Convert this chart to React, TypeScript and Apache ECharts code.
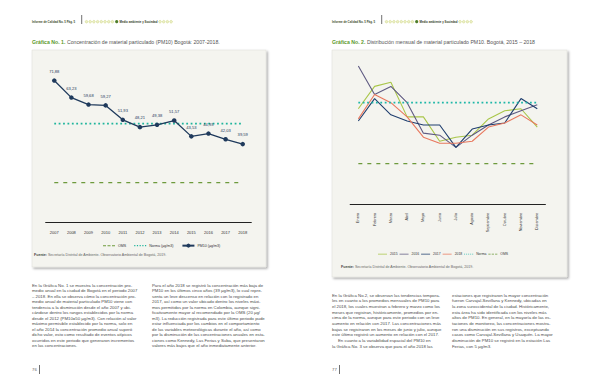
import React, { useEffect, useRef } from "react";
import * as echarts from "echarts";

// ---- Chart 1 data ----
const years = ["2007", "2008", "2009", "2010", "2011", "2012", "2013", "2014", "2015", "2016", "2017", "2018"];
const pm10Annual = [71.88, 63.23, 59.68, 59.27, 51.93, 48.21, 49.38, 51.57, 43.53, 44.93, 42.03, 39.59];
const normaAnnual = [50, 50, 50, 50, 50, 50, 50, 50, 50, 50, 50, 50];
const omsAnnual = [20, 20, 20, 20, 20, 20, 20, 20, 20, 20, 20, 20];

// ---- Chart 2 data ----
const months = ["Enero", "Febrero", "Marzo", "Abril", "Mayo", "Junio", "Julio", "Agosto", "Septiembre", "Octubre", "Noviembre", "Diciembre"];
const s2015 = [47, 58, 60, 43, 43, 31, 33, 34, 42, 46, 47, 38];
const s2016 = [68, 54, 58, 50, 35, 34, 28, 34, 39, 43, 46, 49];
const s2017 = [41, 52, 44, 41, 39, 39, 28, 37, 39, 40, 52, 47];
const s2018 = [42, 54, 50, 43, 33, 30, 30, 31, 38, 40, 44, 39];
const normaMonthly = [50, 50, 50, 50, 50, 50, 50, 50, 50, 50, 50, 50];
const omsMonthly = [20, 20, 20, 20, 20, 20, 20, 20, 20, 20, 20, 20];

// ---- Texts ----
const headerLeft = "Informe de Calidad No. 5 Pág. 5";
const headerSection = "Medio ambiente y Sociedad";
const title1a = "Gráfica No. 1.";
const title1b = " Concentración de material particulado (PM10) Bogotá: 2007-2018.";
const title2a = "Gráfica No. 2.";
const title2b = " Distribución mensual de material particulado PM10. Bogotá, 2015 – 2018";
const fuente = "Secretaría Distrital de Ambiente. Observatorio Ambiental de Bogotá, 2019.";
const left1 = [
  "En la Gráfica No. 1 se muestra la concentración pro-",
  "medio anual en la ciudad de Bogotá en el periodo 2007",
  "– 2018. En ella se observa cómo la concentración pro-",
  "medio anual de material particulado PM10 viene con",
  "tendencia a la disminución desde el año 2007 y ubi-",
  "cándose dentro los rangos establecidos por la norma",
  "desde el 2012 (PM10=50 µg/m3). Con relación al valor",
  "máximo permisible establecido por la norma, solo en",
  "el año 2014 la concentración promedio anual superó",
  "dicho valor, esto como resultado de eventos atípicos",
  "ocurridos en este periodo que generaron incrementos",
  "en las concentraciones.",
];
const left2 = [
  "Para el año 2018 se registró la concentración más baja de",
  "PM10 en los últimos cinco años (39 µg/m3), lo cual repre-",
  "senta un leve descenso en relación con lo registrado en",
  "2017, así como un valor ubicado dentro los niveles máxi-",
  "mos permitidos por la norma en Colombia, aunque signi-",
  "ficativamente mayor al recomendado por la OMS (20 µg/",
  "m3). La reducción registrada para este último periodo pude",
  "estar influenciada por los cambios en el comportamiento",
  "de las variables meteorológicas durante el año, así como",
  "por la disminución de las concentraciones anuales en esta-",
  "ciones como Kennedy, Las Ferias y Suba, que presentaron",
  "valores más bajos que el año inmediatamente anterior.",
];
const right1 = [
  "En la Gráfica No.2, se observan las tendencias tempora-",
  "les en cuanto a los promedios mensuales de PM10 para",
  "el 2018, los cuales muestran a febrero y marzo como los",
  "meses que registran, históricamente, promedios por en-",
  "cima de la norma, aunque para este periodo con un leve",
  "aumento en relación con 2017. Las concentraciones más",
  "bajas se registraron en los meses de junio y julio, aunque",
  "este último registró un aumento en relación con el 2017.",
  "     En cuanto a la variabilidad espacial del PM10 en",
  "la Gráfica No. 3 se observa que para el año 2018 las",
];
const right2 = [
  "estaciones que registraron la mayor concentración",
  "fueron Carvajal-Sevillana y Kennedy, ubicadas en",
  "la zona suroccidental de la ciudad. Históricamente,",
  "esta área ha sido identificada con los niveles más",
  "altos de PM10. En general, en la mayoría de las es-",
  "taciones de monitoreo, las concentraciones mostra-",
  "ron una disminución en sus registros, exceptuando",
  "casos como Carvajal-Sevillana y Usaquén. La mayor",
  "disminución de PM10 se registró en la estación Las",
  "Ferias, con 5 µg/m3.",
];

const FONT = "'Liberation Sans', Roboto, sans-serif";
const NAVY = "#1f3a5c";
const TEAL = "#1fb59c";
const OLIVE = "#6d9a3c";
const GREEN_T = "#5c9a2c";

// legend icon shapes (bounded by tiny corner marks so the 14x5 box keeps a thin stroke)
const BOUNDS = "M0,0h0.01v0.01h-0.01z M13.99,4.99h0.01v0.01h-0.01z ";
const ICON_SOLID = "path://" + BOUNDS + "M0,1.9h14v1.2h-14z";
const ICON_DASH = "path://" + BOUNDS + "M0,1.9h3.5v1.2h-3.5z M5.25,1.9h3.5v1.2h-3.5z M10.5,1.9h3.5v1.2h-3.5z";
const ICON_DOT = "path://" + BOUNDS + "M0,1.8h1.4v1.4h-1.4z M3.15,1.8h1.4v1.4h-1.4z M6.3,1.8h1.4v1.4h-1.4z M9.45,1.8h1.4v1.4h-1.4z M12.6,1.8h1.4v1.4h-1.4z";

function endLabels(arr: number[], pos: string, dist: number, color: string) {
  const last = arr.length - 1;
  return arr.map((v, i) =>
    i === 0 || i === last
      ? { value: v, label: { show: true, position: pos, distance: dist, color, fontSize: 4.3, fontFamily: FONT } }
      : v
  );
}

function header(ox: number) {
  const els: any[] = [];
  els.push({ type: "text", x: ox + 32, y: 21.7, silent: true, style: { text: headerLeft, fontSize: 2.9, fontWeight: "bold", fill: "#3a4a2a", fontFamily: FONT, verticalAlign: "middle" } });
  els.push({ type: "line", silent: true, shape: { x1: ox + 81.7, y1: 15, x2: ox + 81.7, y2: 24 }, style: { stroke: "#333", lineWidth: 0.7 } });
  for (let i = 0; i < 8; i++) {
    els.push({ type: "circle", silent: true, shape: { cx: ox + 86.5 + i * 3.7, cy: 21.7, r: 1.3 }, style: { fill: "#eef0c8", stroke: "#c9d27e", lineWidth: 0.5 } });
  }
  els.push({ type: "circle", silent: true, shape: { cx: ox + 116.7, cy: 21.7, r: 1.6 }, style: { fill: "#4f7d2a" } });
  els.push({ type: "text", x: ox + 119.5, y: 21.7, silent: true, style: { text: headerSection, fontSize: 2.9, fontWeight: "bold", fill: "#2f3a24", fontFamily: FONT, verticalAlign: "middle" } });
  for (let i = 0; i < 4; i++) {
    els.push({ type: "circle", silent: true, shape: { cx: ox + 160 + i * 3.7, cy: 21.7, r: 1.3 }, style: { fill: "#eef0c8", stroke: "#c9d27e", lineWidth: 0.5 } });
  }
  return els;
}

function para(x: number, y: number, lines: string[], lh: number) {
  return { type: "text", x, y, silent: true, style: { text: lines.join("\n"), fontSize: 4.3, lineHeight: lh, fill: "#4a4a4a", fontFamily: FONT, verticalAlign: "top" } };
}

function box(x: number, y: number, w: number, h: number) {
  return { type: "rect", silent: true, z: -1, shape: { x, y, width: w, height: h }, style: { fill: "#f4f4ef", stroke: "#dcdcd6", lineWidth: 0.5, shadowBlur: 2, shadowOffsetX: 1.5, shadowOffsetY: 1.5, shadowColor: "rgba(0,0,0,0.35)" } };
}

export default function App() {
  const ref = useRef<HTMLDivElement>(null);
  useEffect(() => {
    if (!ref.current) return;
    const chart = echarts.init(ref.current, undefined, { renderer: "svg" });
    const lbl2018 = { show: true, position: "bottom", distance: 10, fontSize: 4.3, color: "#333", fontFamily: FONT };
    const option: any = {
      animation: false,
      backgroundColor: "#ffffff",
      textStyle: { fontFamily: FONT },
      graphic: [
        ...header(0),
        ...header(300),
        { type: "text", x: 32, y: 41.7, silent: true, style: { text: `{b|${title1a}}${title1b}`, fontSize: 5.2, fill: "#555", fontFamily: FONT, verticalAlign: "middle", rich: { b: { fontWeight: "bold", fill: GREEN_T, fontSize: 5.2, fontFamily: FONT } } } },
        { type: "text", x: 332, y: 41.7, silent: true, style: { text: `{b|${title2a}}${title2b}`, fontSize: 5.2, fill: "#555", fontFamily: FONT, verticalAlign: "middle", rich: { b: { fontWeight: "bold", fill: GREEN_T, fontSize: 5.2, fontFamily: FONT } } } },
        box(32, 50, 234, 217),
        box(332, 50, 235, 227),
        { type: "text", x: 34, y: 255, silent: true, style: { text: `{b|Fuente:} ${fuente}`, fontSize: 3.6, fill: "#666", fontFamily: FONT, verticalAlign: "middle", rich: { b: { fontWeight: "bold", fill: "#444", fontSize: 3.6, fontFamily: FONT } } } },
        { type: "text", x: 341, y: 266.7, silent: true, style: { text: `{b|Fuente:} ${fuente}`, fontSize: 3.6, fill: "#666", fontFamily: FONT, verticalAlign: "middle", rich: { b: { fontWeight: "bold", fill: "#444", fontSize: 3.6, fontFamily: FONT } } } },
        para(32, 282.5, left1, 5.5),
        para(152, 282.5, left2, 5.5),
        para(332, 292.3, right1, 5.67),
        para(452, 292.3, right2, 5.67),
        { type: "text", x: 32, y: 369.5, silent: true, style: { text: "76", fontSize: 4.3, fill: "#666", fontFamily: FONT, verticalAlign: "middle" } },
        { type: "line", silent: true, shape: { x1: 39.5, y1: 365, x2: 39.5, y2: 374 }, style: { stroke: "#333", lineWidth: 0.7 } },
        { type: "text", x: 332, y: 369.5, silent: true, style: { text: "77", fontSize: 4.3, fill: "#666", fontFamily: FONT, verticalAlign: "middle" } },
        { type: "line", silent: true, shape: { x1: 339.5, y1: 365, x2: 339.5, y2: 374 }, style: { stroke: "#333", lineWidth: 0.7 } },
      ],
      legend: [
        {
          left: 98, top: 238.5, itemWidth: 12, itemHeight: 5, itemGap: 8,
          data: [
            { name: "OMS", icon: ICON_DASH },
            { name: "Norma (µg/m3)", icon: ICON_DOT },
            { name: "PM10 (µg/m3)" },
          ],
          textStyle: { fontSize: 3.6, color: "#333", fontFamily: FONT, padding: [0, 0, 0, -2] },
        },
        {
          left: 373, top: 247.5, itemWidth: 9, itemHeight: 5, itemGap: 2,
          data: [
            { name: "2015", icon: ICON_SOLID },
            { name: "2016", icon: ICON_SOLID },
            { name: "2017", icon: ICON_SOLID },
            { name: "2018", icon: ICON_SOLID },
            { name: "Norma", icon: ICON_DOT },
            { name: "OMS", icon: ICON_DASH },
          ],
          textStyle: { fontSize: 3.4, color: "#333", fontFamily: FONT, padding: [0, 0, 0, -2] },
        },
      ],
      grid: [
        { left: 45.7, top: 64.6, width: 205.6, height: 157.4 },
        { left: 350.2, top: 62, width: 195.2, height: 142.3 },
      ],
      xAxis: [
        {
          type: "category", gridIndex: 0, data: years, boundaryGap: true,
          axisLine: { lineStyle: { color: "#222", width: 1.1 } }, axisTick: { show: false },
          axisLabel: { fontSize: 4, color: "#333", margin: 8, fontFamily: FONT },
        },
        {
          type: "category", gridIndex: 1, data: months, boundaryGap: true,
          axisLine: { lineStyle: { color: "#222", width: 1.1 } }, axisTick: { show: false },
          axisLabel: { fontSize: 3.8, color: "#333", margin: 8.5, rotate: 90, fontFamily: FONT },
        },
      ],
      yAxis: [
        { type: "value", gridIndex: 0, min: 0, max: 80, show: false, splitLine: { show: false } },
        { type: "value", gridIndex: 1, min: 0, max: 70, show: false, splitLine: { show: false } },
      ],
      series: [
        {
          name: "OMS", type: "line", xAxisIndex: 0, yAxisIndex: 0, symbol: "none", color: OLIVE,
          lineStyle: { color: OLIVE, width: 1.3, type: [4, 5] },
          data: endLabels(omsAnnual, "bottom", 5, "#6f7a5a"),
        },
        {
          name: "Norma (µg/m3)", type: "line", xAxisIndex: 0, yAxisIndex: 0, symbol: "none", color: TEAL,
          lineStyle: { color: TEAL, width: 1.8, type: [1.8, 2.6] },
          data: endLabels(normaAnnual, "top", 8.5, TEAL),
        },
        {
          name: "PM10 (µg/m3)", type: "line", xAxisIndex: 0, yAxisIndex: 0, color: NAVY,
          symbol: "circle", symbolSize: 4.5,
          lineStyle: { color: NAVY, width: 1.3 }, itemStyle: { color: NAVY },
          label: { show: true, position: "top", distance: 5, fontSize: 4.1, color: NAVY, fontFamily: FONT, formatter: (p: any) => p.value.toFixed(2).replace(".", ",") },
          data: pm10Annual,
        },
        {
          name: "2015", type: "line", xAxisIndex: 1, yAxisIndex: 1, symbol: "none", color: "#a9c64a",
          lineStyle: { color: "#a9c64a", width: 1.1 }, data: s2015,
        },
        {
          name: "2016", type: "line", xAxisIndex: 1, yAxisIndex: 1, symbol: "none", color: "#5f5a82",
          lineStyle: { color: "#5f5a82", width: 1.1 }, data: s2016,
        },
        {
          name: "2017", type: "line", xAxisIndex: 1, yAxisIndex: 1, symbol: "none", color: "#1f3e6e",
          lineStyle: { color: "#1f3e6e", width: 1.1 }, data: s2017,
        },
        {
          name: "2018", type: "line", xAxisIndex: 1, yAxisIndex: 1, symbol: "none", color: "#e8785e",
          lineStyle: { color: "#e8785e", width: 1.1 }, label: lbl2018, data: s2018,
        },
        {
          name: "Norma", type: "line", xAxisIndex: 1, yAxisIndex: 1, symbol: "none", color: "#1eb7a8",
          lineStyle: { color: "#1eb7a8", width: 1.8, type: [1.8, 2.6] },
          data: endLabels(normaMonthly, "top", 8.5, TEAL),
        },
        {
          name: "OMS", type: "line", xAxisIndex: 1, yAxisIndex: 1, symbol: "none", color: OLIVE,
          lineStyle: { color: OLIVE, width: 1.3, type: [4, 5] },
          data: endLabels(omsMonthly, "bottom", 4, "#6f7a5a"),
        },
      ],
    };
    chart.setOption(option);
    return () => chart.dispose();
  }, []);
  return <div ref={ref} style={{ position: "fixed", left: 0, top: 0, width: 600, height: 388 }} />;
}
